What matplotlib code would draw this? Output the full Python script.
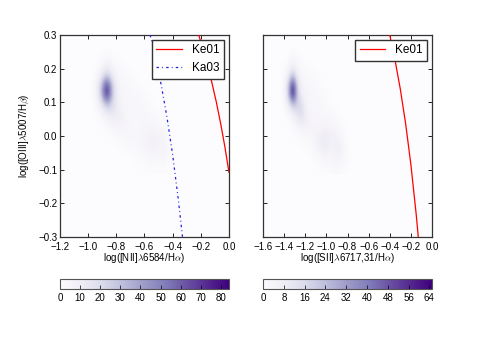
import numpy as np
import matplotlib
matplotlib.use("Agg")
import matplotlib.pyplot as plt

plt.rcParams['font.family'] = ['Liberation Sans', 'DejaVu Sans']
plt.rcParams['mathtext.fontset'] = 'cm'
plt.rcParams['font.size'] = 7

# density grid, [NII] panel: cell centres
nii_x = [-0.99, -0.95, -0.91, -0.87, -0.83, -0.79, -0.75, -0.71,
         -0.67, -0.63, -0.59, -0.55, -0.51, -0.47, -0.43, -0.39]
grid_y = [0.25, 0.225, 0.20, 0.175, 0.15, 0.125, 0.10, 0.075,
          0.05, 0.025, 0.0, -0.025, -0.05, -0.075, -0.10]
nii_counts = [
    [0, 0, 0, 1, 0, 0, 0, 0, 0, 0, 0, 0, 0, 0, 0, 0],
    [0, 0, 1, 5, 2, 1, 0, 0, 0, 0, 0, 0, 0, 0, 0, 0],
    [0, 1, 4, 12, 5, 2, 2, 1, 0, 0, 0, 0, 0, 0, 0, 0],
    [0, 2, 12, 34, 12, 3, 3, 2, 1, 0, 0, 0, 0, 0, 0, 0],
    [0, 3, 24, 74, 22, 5, 4, 3, 2, 1, 0, 0, 0, 0, 0, 0],
    [0, 3, 26, 84, 24, 6, 4, 4, 3, 2, 1, 0, 0, 0, 0, 0],
    [0, 2, 14, 44, 20, 8, 4, 4, 4, 3, 2, 1, 0, 0, 0, 0],
    [0, 1, 5, 16, 17, 10, 5, 3, 4, 4, 3, 2, 1, 0, 0, 0],
    [0, 0, 2, 6, 9, 9, 6, 3, 3, 4, 4, 3, 2, 1, 0, 0],
    [0, 0, 0, 2, 4, 5, 5, 4, 3, 4, 5, 5, 4, 3, 1, 0],
    [0, 0, 0, 0, 1, 3, 4, 4, 4, 4, 6, 8, 6, 6, 2, 0],
    [0, 0, 0, 0, 0, 1, 2, 3, 3, 4, 6, 9, 6, 7, 2, 0],
    [0, 0, 0, 0, 0, 0, 1, 1, 2, 3, 4, 6, 4, 6, 2, 0],
    [0, 0, 0, 0, 0, 0, 0, 0, 1, 1, 2, 3, 3, 4, 1, 0],
    [0, 0, 0, 0, 0, 0, 0, 0, 0, 0, 1, 1, 1, 2, 0, 0],
]

# density grid, [SII] panel
sii_x = [-1.44, -1.40, -1.36, -1.32, -1.28, -1.24, -1.20, -1.16, -1.12,
         -1.08, -1.04, -1.00, -0.96, -0.92, -0.88, -0.84, -0.80]
sii_counts = [
    [0, 0, 0, 1, 0, 0, 0, 0, 0, 0, 0, 0, 0, 0, 0, 0, 0],
    [0, 0, 1, 4, 2, 1, 0, 0, 0, 0, 0, 0, 0, 0, 0, 0, 0],
    [0, 1, 4, 10, 4, 2, 2, 1, 1, 0, 0, 0, 0, 0, 0, 0, 0],
    [0, 2, 10, 27, 10, 3, 3, 2, 1, 1, 0, 0, 0, 0, 0, 0, 0],
    [0, 3, 20, 58, 18, 5, 3, 3, 2, 1, 1, 0, 0, 0, 0, 0, 0],
    [0, 3, 22, 65, 22, 7, 4, 3, 3, 2, 1, 1, 0, 0, 0, 0, 0],
    [0, 2, 11, 32, 20, 14, 5, 3, 3, 3, 2, 1, 1, 0, 0, 0, 0],
    [0, 1, 4, 11, 15, 17, 7, 3, 3, 3, 3, 2, 1, 1, 0, 0, 0],
    [0, 0, 1, 4, 8, 13, 8, 4, 3, 3, 3, 3, 3, 2, 1, 0, 0],
    [0, 0, 0, 1, 3, 5, 5, 4, 4, 4, 5, 5, 4, 3, 2, 1, 0],
    [0, 0, 0, 0, 1, 2, 3, 3, 4, 6, 8, 9, 6, 6, 4, 2, 0],
    [0, 0, 0, 0, 0, 1, 1, 2, 3, 6, 9, 9, 6, 7, 6, 3, 1],
    [0, 0, 0, 0, 0, 0, 0, 1, 2, 3, 5, 6, 4, 6, 6, 3, 1],
    [0, 0, 0, 0, 0, 0, 0, 0, 1, 1, 2, 3, 3, 4, 4, 3, 1],
    [0, 0, 0, 0, 0, 0, 0, 0, 0, 0, 1, 1, 1, 2, 2, 1, 0],
]

# demarcation lines
ke01_nii_x = [-0.215, -0.18, -0.15, -0.12, -0.09, -0.06, -0.03, 0.0]
ke01_nii_y = [0.300, 0.252, 0.206, 0.156, 0.101, 0.039, -0.030, -0.108]
ka03_x = [-0.56, -0.52, -0.48, -0.44, -0.40, -0.36, -0.33]
ka03_y = [0.300, 0.230, 0.149, 0.055, -0.056, -0.188, -0.300]
ke01_sii_x = [-0.40, -0.35, -0.30, -0.25, -0.20, -0.15, -0.13]
ke01_sii_y = [0.300, 0.225, 0.139, 0.037, -0.085, -0.232, -0.300]

cmap = plt.get_cmap('Purples')
fig = plt.figure(figsize=(4.8, 3.6), dpi=100)


def density(ax, xc, counts):
    z = np.array(counts, dtype=float)
    dx = (xc[1] - xc[0]) / 2
    dy = (grid_y[0] - grid_y[1]) / 2
    ext = [xc[0] - dx, xc[-1] + dx, grid_y[-1] - dy, grid_y[0] + dy]
    im = ax.imshow(z, extent=ext, origin='upper', cmap=cmap, vmin=0,
                   vmax=z.max(), interpolation='bicubic', aspect='auto',
                   zorder=1)
    ax.set_facecolor(cmap(0.0))
    return im


def style(ax):
    ax.tick_params(direction='in', top=True, right=True, length=3,
                   width=0.6, labelsize=7, pad=2)
    ax.tick_params(axis='x', pad=4)
    for s in ax.spines.values():
        s.set_linewidth(0.9)
        s.set_color('#333333')


ax1 = fig.add_axes([0.125, 0.342, 0.352, 0.561])
im1 = density(ax1, nii_x, nii_counts)
ax1.plot(ke01_nii_x, ke01_nii_y, color='red', lw=0.9, label='Ke01', zorder=3)
ax1.plot(ka03_x, ka03_y, color='#2020e0', lw=0.9, ls=(0, (2, 2.5, 0.7, 2.5)),
         label='Ka03', zorder=3)
ax1.set_xlim(-1.2, 0.0)
ax1.set_ylim(-0.3, 0.3)
ax1.set_xticks(np.arange(-1.2, 0.01, 0.2))
ax1.set_yticks(np.arange(-0.3, 0.31, 0.1))
ax1.set_xlabel(r'log([NII]$\lambda$6584/H$\alpha$)', fontsize=7, labelpad=-1)
ax1.set_ylabel(r'log([OIII]$\lambda$5007/H$\beta$)', fontsize=7, labelpad=5)
style(ax1)
ax1.legend(loc='upper right', fontsize=8.5, fancybox=False, framealpha=1,
           edgecolor='#333333', handlelength=2.2, borderaxespad=0.4)

ax2 = fig.add_axes([0.548, 0.342, 0.352, 0.561])
im2 = density(ax2, sii_x, sii_counts)
ax2.plot(ke01_sii_x, ke01_sii_y, color='red', lw=0.9, label='Ke01', zorder=3)
ax2.set_xlim(-1.6, 0.0)
ax2.set_ylim(-0.3, 0.3)
ax2.set_xticks(np.arange(-1.6, 0.01, 0.2))
ax2.set_yticks(np.arange(-0.3, 0.31, 0.1))
ax2.set_yticklabels([])
ax2.set_xlabel(r'log([SII]$\lambda$6717,31/H$\alpha$)', fontsize=7, labelpad=-1)
style(ax2)
ax2.legend(loc='upper right', fontsize=8.5, fancybox=False, framealpha=1,
           edgecolor='#333333', handlelength=2.2, borderaxespad=0.4)

for pos, im, ticks in [([0.125, 0.197, 0.352, 0.027], im1, range(0, 81, 10)),
                       ([0.548, 0.197, 0.352, 0.027], im2, range(0, 65, 8))]:
    cax = fig.add_axes(pos)
    cb = fig.colorbar(im, cax=cax, orientation='horizontal', ticks=list(ticks))
    cb.outline.set_edgecolor('#555555')
    cb.outline.set_linewidth(0.8)
    cax.tick_params(direction='in', length=3, width=0.5, labelsize=7, pad=3)

fig.savefig('out.png', dpi=100)
